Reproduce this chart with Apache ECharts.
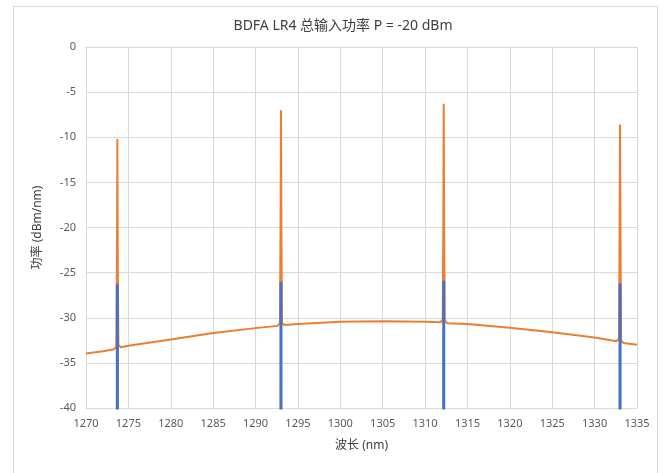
<!DOCTYPE html>
<html>
<head>
<meta charset="utf-8">
<script src="https://cdn.jsdelivr.net/npm/echarts@6/dist/echarts.min.js"></script>
<style>
  html, body {margin:0;padding:0;background:#fff;}
  #frame {position:absolute;left:13px;top:6px;width:645px;height:480px;border:1px solid #d9d9d9;box-sizing:border-box;}
  #chart {position:absolute;left:0;top:0;width:666px;height:473px;}
</style>
</head>
<body>
<div id="frame"></div>
<div id="chart"></div>
<script>
// 信道中心波长 (nm)
var channels = [1273.7, 1293.0, 1312.2, 1333.0];
// 输入信号峰值 (dBm/nm)
var inputPeaks = [-26.3, -26.0, -25.9, -26.2];
var inputFloor = -70;

// 输出光谱 (波长 nm, 功率 dBm/nm)
var outputSpectrum = [
  [1270.0, -33.96], [1272.0, -33.7], [1273.3, -33.5], [1273.58, -33.2], [1273.65, -24], [1273.7, -10.2],
  [1273.75, -24], [1273.82, -33.0], [1274.1, -33.26], [1275.0, -33.1], [1280.0, -32.4],
  [1285.0, -31.7], [1290.0, -31.15], [1292.6, -30.9], [1292.88, -30.6], [1292.95, -20],
  [1293.0, -7.0], [1293.05, -20], [1293.12, -30.6], [1293.4, -30.8], [1295.0, -30.7],
  [1300.0, -30.45], [1305.0, -30.4], [1310.0, -30.45], [1311.8, -30.5], [1312.08, -30.2],
  [1312.15, -20], [1312.2, -6.3], [1312.25, -20], [1312.32, -30.3], [1312.6, -30.6],
  [1315.0, -30.7], [1320.0, -31.1], [1325.0, -31.6], [1330.0, -32.2], [1332.6, -32.6],
  [1332.88, -32.3], [1332.95, -20], [1333.0, -8.6], [1333.05, -20], [1333.12, -32.5],
  [1333.4, -32.8], [1335.0, -33.0]
];

var xTicks = {min: 1270, max: 1335, step: 5};
var yTicks = {min: -40, max: 0, step: 5};

var inputSpectrum = [];
channels.forEach(function (c, i) {
  inputSpectrum.push([c - 0.02, inputFloor]);
  inputSpectrum.push([c, inputPeaks[i]]);
  inputSpectrum.push([c + 0.02, inputFloor]);
});

var font = '"Noto Sans", "Noto Sans CJK SC", sans-serif';
var myChart = echarts.init(document.getElementById('chart'));
var option = {
  animation: false,
  title: {
    text: 'BDFA LR4 总输入功率 P = -20 dBm',
    left: 338, top: 14, textAlign: 'center',
    textStyle: {fontFamily: font, fontSize: 14, fontWeight: 'normal', color: '#404040'}
  },
  grid: {left: 86, right: 29, top: 47, bottom: 65},
  xAxis: {
    type: 'value', min: xTicks.min, max: xTicks.max, interval: xTicks.step,
    name: '波长 (nm)', nameLocation: 'middle', nameGap: 32,
    nameTextStyle: {fontFamily: font, fontSize: 12, color: '#404040'},
    axisLine: {lineStyle: {color: '#d9d9d9'}},
    axisTick: {show: false},
    axisLabel: {fontFamily: font, fontSize: 11, color: '#595959', margin: 10,
      formatter: function (v) { return String(v); }},
    splitLine: {lineStyle: {color: '#d9d9d9'}}
  },
  yAxis: {
    type: 'value', min: yTicks.min, max: yTicks.max, interval: yTicks.step,
    name: '功率 (dBm/nm)', nameLocation: 'middle', nameGap: 42,
    nameTextStyle: {fontFamily: font, fontSize: 12, color: '#404040'},
    axisLine: {show: true, lineStyle: {color: '#d9d9d9'}},
    axisTick: {show: false},
    axisLabel: {fontFamily: font, fontSize: 11, color: '#595959', margin: 10},
    splitLine: {lineStyle: {color: '#d9d9d9'}}
  },
  series: [
    {
      name: '输出', type: 'line', data: outputSpectrum, showSymbol: false,
      lineStyle: {color: '#ED7D31', width: 2}, itemStyle: {color: '#ED7D31'}, z: 2
    },
    {
      name: '输入', type: 'line', data: inputSpectrum, showSymbol: false,
      lineStyle: {color: '#4472C4', width: 3}, itemStyle: {color: '#4472C4'}, z: 3
    }
  ]
};
myChart.setOption(option);
</script>
</body>
</html>
